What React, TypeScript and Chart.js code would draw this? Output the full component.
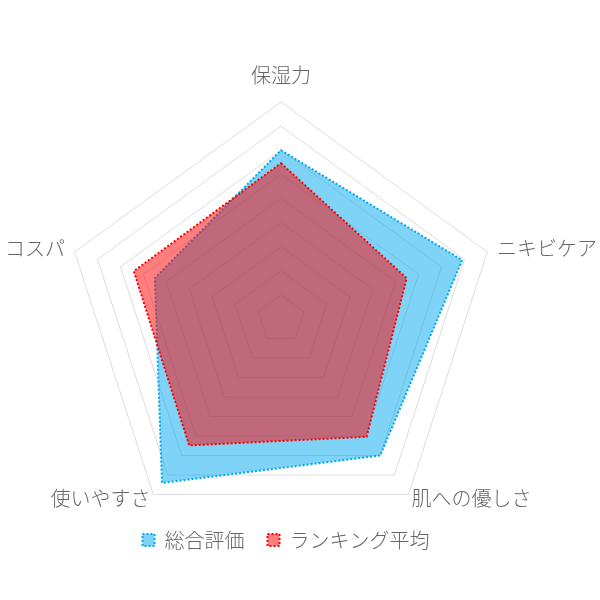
import React, { useEffect, useRef } from 'react';
import Chart from 'chart.js/auto';

// axis labels, clockwise from the top
const labels = ['保湿力', 'ニキビケア', '肌への優しさ', '使いやすさ', 'コスパ'];

// series values (scale 0.5 - 5)
const overallScores = [4.0, 4.45, 4.0, 4.7, 3.25];
const rankingAverage = [3.73, 3.24, 3.52, 3.74, 3.71];

const seriesNames = ['総合評価', 'ランキング平均'];

const FONT = "'Noto Sans CJK JP', 'Noto Sans', sans-serif";
const TEXT_COLOR = '#666';

// geometry of the radar, so that the legend can sit closer than Chart.js would allow
const CENTER_X = 281;
const CENTER_Y = 319;
const RADIUS = 217;

// draws the axis labels beside each outer vertex
const pointLabelPlugin = {
  id: 'pointLabelText',
  afterDraw(chart: any) {
    const scale = chart.scales.r;
    const ctx = chart.ctx;
    ctx.save();
    ctx.font = `300 20px ${FONT}`;
    ctx.fillStyle = TEXT_COLOR;
    ctx.textBaseline = 'middle';
    labels.forEach((text, i) => {
      const angle = scale.getIndexAngle(i) % (2 * Math.PI);
      const isTop = angle < 0.01;
      const isLower = angle > Math.PI / 2 && angle < (3 * Math.PI) / 2;
      const offset = isTop ? 27 : isLower ? 5 : 10;
      const pos = scale.getPointPosition(i, scale.drawingArea + offset);
      ctx.textAlign = isTop ? 'center' : angle < Math.PI ? 'left' : 'right';
      ctx.fillText(text, pos.x, pos.y);
    });
    ctx.restore();
  },
};

export default function App() {
  const chartRef = useRef<HTMLCanvasElement>(null);
  const chartInstance = useRef<any>(null);

  useEffect(() => {
    document.body.style.margin = '0';
    if (!chartRef.current) return;
    const ctx = chartRef.current.getContext('2d');
    if (!ctx) return;

    chartInstance.current = new Chart(ctx, {
      type: 'radar',
      data: {
        labels,
        datasets: [
          {
            label: seriesNames[0],
            data: overallScores,
            backgroundColor: 'rgba(0, 168, 240, 0.5)',
            borderColor: 'rgba(0, 168, 240, 1)',
            borderWidth: 2,
            borderDash: [2, 2],
            pointRadius: 0,
            order: 1,
          },
          {
            label: seriesNames[1],
            data: rankingAverage,
            backgroundColor: 'rgba(255, 0, 0, 0.5)',
            borderColor: 'rgba(255, 0, 0, 1)',
            borderWidth: 2,
            borderDash: [2, 2],
            pointRadius: 0,
            order: 0,
          },
        ],
      },
      options: {
        responsive: false,
        animation: false,
        layout: { padding: { top: 0, bottom: 40, left: 0, right: 28 } },
        plugins: {
          legend: {
            position: 'bottom',
            labels: {
              font: { size: 20, family: FONT, weight: '300' },
              color: TEXT_COLOR,
              boxWidth: 12,
              boxHeight: 12,
              padding: 23,
              sort: (a: any, b: any) => a.datasetIndex - b.datasetIndex,
            },
          },
          tooltip: { enabled: false },
        },
        scales: {
          r: {
            min: 0.5,
            max: 5,
            ticks: { display: false, stepSize: 0.5 },
            angleLines: { display: false },
            grid: { color: 'rgba(0, 0, 0, 0.14)' },
            pointLabels: { display: false },
            afterFit: (scale: any) => {
              scale.xCenter = CENTER_X;
              scale.yCenter = CENTER_Y;
              scale.drawingArea = RADIUS;
            },
          },
        },
      },
      plugins: [pointLabelPlugin],
    });

    return () => {
      if (chartInstance.current) {
        chartInstance.current.destroy();
      }
    };
  }, []);

  return (
    <div style={{ width: 600, height: 600 }}>
      <canvas ref={chartRef} width={600} height={600} />
    </div>
  );
}
